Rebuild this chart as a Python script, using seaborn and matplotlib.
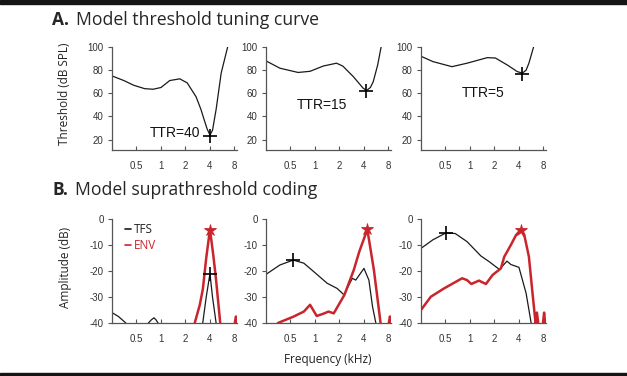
import numpy as np
import seaborn as sns
import matplotlib.pyplot as plt
from matplotlib.patches import Rectangle
from matplotlib.ticker import FixedLocator, NullLocator

# Limiares (painel A)
a1_freq = [0.25, 0.35, 0.46, 0.63, 0.8, 1.0, 1.28, 1.7, 2.1, 2.7, 3.1, 3.4, 3.7, 4.0, 4.3, 4.76, 5.5, 6.6]
a1_thr = [75, 71, 67, 64, 63.5, 65, 71, 72.5, 69, 57, 46, 37, 29, 24, 28, 46, 77.6, 100]
a2_freq = [0.25, 0.37, 0.62, 0.87, 1.27, 1.84, 2.2, 2.95, 3.9, 4.3, 4.8, 5.2, 5.9, 6.5]
a2_thr = [88, 81.7, 78, 79, 83.6, 86, 83.5, 74.5, 64.5, 62.4, 65, 70, 84.5, 100]
a3_freq = [0.25, 0.35, 0.6, 0.92, 1.63, 2.05, 2.87, 3.8, 4.4, 4.9, 5.3, 6.05]
a3_thr = [92, 87.4, 83, 86, 90.8, 90.5, 84.5, 78.8, 77.4, 80, 86, 100]
a_mark_f = [4.0, 4.2, 4.3]
a_mark_t = [23, 62, 77]
ttr_labels = ["TTR=40", "TTR=15", "TTR=5"]

# Amplitudes (painel B)
b1_tfs_f = [0.25, 0.3, 0.37]
b1_tfs_a = [-36, -37.5, -40]
b1_bump_f = [0.7, 0.76, 0.82, 0.87, 0.92]
b1_bump_a = [-40, -38.8, -38, -38.8, -40]
b1_peak_f = [3.26, 3.6, 4.0, 4.3, 4.76]
b1_peak_a = [-40, -30, -21, -30, -40]
b1_env_f = [2.6, 3.0, 3.27, 3.6, 4.0, 4.4, 4.76, 5.35]
b1_env_a = [-40, -33, -27, -15, -4, -14, -23.5, -40]
b1_tail_f = [8.1, 8.35, 8.6]
b1_tail_a = [-40, -37.5, -40]

b2_tfs_f = [0.25, 0.37, 0.54, 0.73, 0.97, 1.41, 1.87, 2.28, 2.6, 2.88, 3.17, 4.0, 4.6, 5.1, 5.6]
b2_tfs_a = [-21.3, -17.7, -15.8, -17, -20.3, -24.7, -26.7, -29.2, -25.5, -22.8, -23.5, -19, -23.5, -33.7, -40]
b2_env_f = [0.35, 0.54, 0.73, 0.87, 1.05, 1.25, 1.47, 1.7, 2.3, 3.0, 3.5, 4.4, 5.3, 6.4]
b2_env_a = [-40, -37.6, -35.6, -33, -37.3, -36.5, -35.6, -36.3, -29.2, -19.6, -12.6, -4, -19.6, -40]
b2_tail_f = [8.1, 8.35, 8.6]
b2_tail_a = [-40, -37.5, -40]

b3_tfs_f = [0.25, 0.35, 0.51, 0.66, 0.92, 1.36, 1.72, 2.3, 2.85, 3.18, 4.0, 4.9, 5.65]
b3_tfs_a = [-11.3, -8, -5.3, -5.6, -8.7, -14.2, -16.4, -19.4, -16.2, -17.5, -18.6, -28.6, -40]
b3_env_f = [0.25, 0.33, 0.48, 0.8, 0.92, 1.04, 1.29, 1.57, 1.9, 2.4, 2.64, 3.18, 3.68, 4.2, 4.7, 5.3, 5.9, 6.4, 6.65, 6.9]
b3_env_a = [-35, -29.9, -26.7, -22.8, -23.5, -25, -23.7, -25, -21.5, -19, -14.5, -10, -6.2, -4.2, -6.8, -14.5, -29.2, -40, -36, -40]
b3_tail_f = [7.9, 8.15, 8.4]
b3_tail_a = [-40, -36, -40]

tfs_mark_f = [4.0, 0.54, 0.51]
tfs_mark_a = [-21, -15.8, -5.3]
env_mark_f = [4.0, 4.4, 4.2]
env_mark_a = [-4.2, -4, -4.2]

x_ticks = [0.5, 1, 2, 4, 8]
x_labels = ["0.5", "1", "2", "4", "8"]

sns.set_style("ticks")
plt.rcParams['font.family'] = ['Liberation Sans', 'DejaVu Sans']
plt.rcParams['axes.unicode_minus'] = False

VERM = '#c9252c'
PRETO = '#1a1a1a'
TXT = "Open Sans"

fig = plt.figure(figsize=(6.27, 3.76), dpi=100)

lefts = [112 / 627, 266 / 627, 421 / 627]
w = 125 / 627
axA = [fig.add_axes([l, 1 - 150 / 376, w, 103 / 376]) for l in lefts]
axB = [fig.add_axes([l, 1 - 323 / 376, w, 104 / 376]) for l in lefts]


def estilo(ax):
    ax.set_xscale('log', base=2)
    ax.set_xlim(0.25, 8.6)
    ax.xaxis.set_major_locator(FixedLocator(x_ticks))
    ax.xaxis.set_minor_locator(NullLocator())
    ax.set_xticklabels(x_labels)
    ax.tick_params(axis='x', direction='in', length=3, pad=8, labelsize=7, colors='#555', labelcolor='#333')
    ax.tick_params(axis='y', direction='out', length=3, pad=3, labelsize=7, colors='#555', labelcolor='#333')
    for s in ['top', 'right']:
        ax.spines[s].set_visible(False)
    for s in ['left', 'bottom']:
        ax.spines[s].set_color('#555')
        ax.spines[s].set_linewidth(0.9)
    ax.set_xlabel('')
    ax.set_ylabel('')


def linha(ax, x, y, cor, lw, rotulo=None):
    sns.lineplot(x=x, y=y, ax=ax, color=cor, linewidth=lw, sort=False, estimator=None, label=rotulo)


# Painel A
curvas_a = [(a1_freq, a1_thr), (a2_freq, a2_thr), (a3_freq, a3_thr)]
ttr_pos = [(0.5, 0.165), (0.45, 0.437), (0.5, 0.553)]
for i, ax in enumerate(axA):
    f, t = curvas_a[i]
    linha(ax, f, t, PRETO, 0.9)
    ax.plot(a_mark_f[i], a_mark_t[i], marker='+', color='black', markersize=10, mew=1.2)
    ax.set_ylim(11, 100)
    ax.set_yticks([20, 40, 60, 80, 100])
    estilo(ax)
    ax.text(ttr_pos[i][0], ttr_pos[i][1], ttr_labels[i], transform=ax.transAxes,
            fontsize=10, ha='center', va='center', color='#111')

# Painel B
tfs_b = [[(b1_tfs_f, b1_tfs_a), (b1_bump_f, b1_bump_a), (b1_peak_f, b1_peak_a)],
         [(b2_tfs_f, b2_tfs_a)],
         [(b3_tfs_f, b3_tfs_a)]]
env_b = [[(b1_env_f, b1_env_a), (b1_tail_f, b1_tail_a)],
         [(b2_env_f, b2_env_a), (b2_tail_f, b2_tail_a)],
         [(b3_env_f, b3_env_a), (b3_tail_f, b3_tail_a)]]
for i, ax in enumerate(axB):
    for k, (x, y) in enumerate(tfs_b[i]):
        linha(ax, x, y, PRETO, 0.9, 'TFS' if (i == 0 and k == 0) else None)
    for k, (x, y) in enumerate(env_b[i]):
        linha(ax, x, y, VERM, 1.8, 'ENV' if (i == 0 and k == 0) else None)
    ax.plot(tfs_mark_f[i], tfs_mark_a[i], marker='+', color='black', markersize=10, mew=1.2)
    ax.plot(env_mark_f[i], env_mark_a[i], marker='*', color=VERM, markersize=9, mew=0.6)
    ax.set_ylim(-40, 0)
    ax.set_yticks([-40, -30, -20, -10, 0])
    estilo(ax)
    if i == 0:
        leg = ax.legend(loc='upper left', bbox_to_anchor=(0.02, 1.06), frameon=False,
                        handlelength=0.5, handletextpad=0.25, labelspacing=0.2,
                        prop={'family': TXT, 'size': 8.5})
        for h in leg.get_lines():
            h.set_linewidth(1.2)
        leg.get_texts()[0].set_color('#222')
        leg.get_texts()[1].set_color(VERM)

# Titulos e rotulos
fig.text(52 / 627, 1 - 20 / 376, "A.", fontsize=12.5, fontweight='bold', family=TXT, va='center')
fig.text(76 / 627, 1 - 20 / 376, "Model threshold tuning curve", fontsize=12.7, family=TXT, va='center')
fig.text(52 / 627, 1 - 190 / 376, "B.", fontsize=12.5, fontweight='bold', family=TXT, va='center')
fig.text(75 / 627, 1 - 190 / 376, "Model suprathreshold coding", fontsize=12.7, family=TXT, va='center')
fig.text(65 / 627, 1 - 94 / 376, "Threshold (dB SPL)", rotation=90, fontsize=8.5, family=TXT,
         ha='center', va='center', color='#222')
fig.text(65 / 627, 1 - 267 / 376, "Amplitude (dB)", rotation=90, fontsize=8.5, family=TXT,
         ha='center', va='center', color='#222')
fig.text(328 / 627, 1 - 360 / 376, "Frequency (kHz)", fontsize=8.5, family=TXT,
         ha='center', va='center', color='#222')

# bordas escuras
fig.add_artist(Rectangle((0, 1 - 4 / 376), 1, 4 / 376, transform=fig.transFigure, color='#151515'))
fig.add_artist(Rectangle((0, 0), 1, 3 / 376, transform=fig.transFigure, color='#151515'))

fig.savefig('out.png', dpi=100)
